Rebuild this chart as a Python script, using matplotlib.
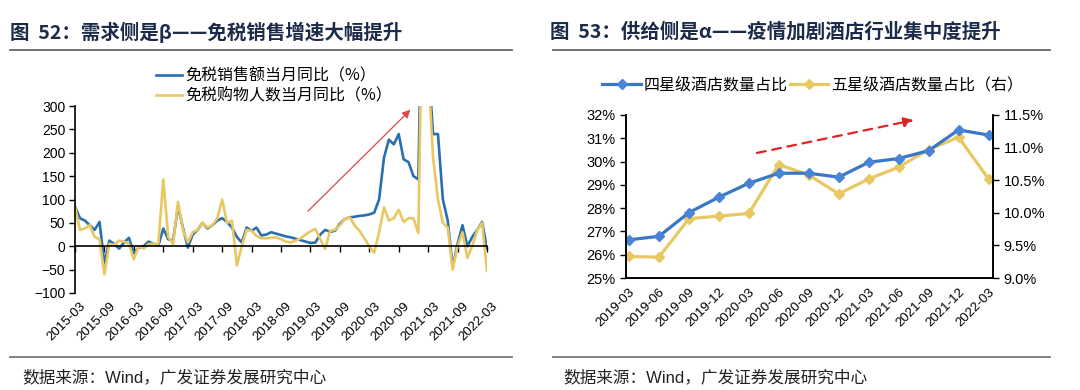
import matplotlib
matplotlib.use('Agg')
import matplotlib.pyplot as plt
from matplotlib.lines import Line2D
import numpy as np
import pandas as pd

# fonts: latin digits in an Arial-like face, CJK falls through to Noto
plt.rcParams['font.family'] = ['Liberation Sans', 'Noto Sans CJK SC', 'DejaVu Sans']
CJK = ['Noto Sans CJK SC', 'DejaVu Sans']

# ---- figure 52 data (monthly, 2015-03 .. 2022-03) ----
months_l = pd.date_range('2015-03-01', periods=85, freq='MS').strftime('%Y-%m').tolist()
sales_yoy = [85, 60, 55, 45, 35, 52, -38, 12, 5, -5, 8, 18, -15, -3, 0, 10, 5, 2, 38, 15,
             12, 85, 40, -3, 25, 35, 50, 38, 45, 55, 60, 52, 40, 20, 8, 40, 33, 40, 23, 25,
             30, 27, 24, 21, 19, 16, 13, 10, 7, 8, 25, 35, 31, 33, 48, 58, 62, 63, 65, 66,
             68, 72, 100, 190, 228, 218, 240, 186, 180, 150, 143, 700, 400, 240, 240, 100, 55, -45, 5, 45,
             0, 20, 35, 52, -5]
shoppers_yoy = [85, 35, 38, 45, 20, 15, -60, 5, 3, 12, 10, 5, -28, 0, -5, 5, 5, 5, 143, 20,
                5, 95, 35, 8, 30, 35, 50, 40, 45, 60, 100, 50, 55, -41, 0, 35, 33, 22, 17, 17,
                18, 19, 15, 10, 8, 12, 17, 25, 32, 37, 15, -6, 33, 35, 45, 58, 62, 45, 33, 17,
                0, -14, 30, 83, 55, 60, 78, 52, 60, 60, 28, 650, 380, 190, 100, 50, 40, -50, 0, 30,
                -25, 0, 35, 50, -53]
series_l = ['免税销售额当月同比（%）', '免税购物人数当月同比（%）']

# ---- figure 53 data (quarterly) ----
months_r = ['2019-03', '2019-06', '2019-09', '2019-12', '2020-03', '2020-06', '2020-09',
            '2020-12', '2021-03', '2021-06', '2021-09', '2021-12', '2022-03']
four_star = [26.64, 26.79, 27.81, 28.47, 29.07, 29.50, 29.50, 29.33, 29.97, 30.13, 30.47, 31.36, 31.14]
five_star = [9.33, 9.32, 9.91, 9.95, 9.99, 10.74, 10.58, 10.29, 10.52, 10.70, 10.97, 11.16, 10.52]
series_r = ['四星级酒店数量占比', '五星级酒店数量占比（右）']

BLUE = '#2a6fb0'
GOLD = '#e8c862'
BLUE_R = '#3a77c4'
NAVY = '#1c2b4a'
W, H = 1080, 390

fig = plt.figure(figsize=(10.8, 3.9), dpi=100)


def fx(px):
    return px / W


def fy(py):
    return 1 - py / H


# titles, rules and sources
fig.text(fx(10), fy(32), '图  52：需求侧是β——免税销售增速大幅提升', family=CJK,
         fontsize=14, fontweight='bold', color=NAVY, va='center')
fig.text(fx(550), fy(32), '图  53：供给侧是α——疫情加剧酒店行业集中度提升', family=CJK,
         fontsize=14, fontweight='bold', color=NAVY, va='center')
for x0, x1 in [(10, 512), (553, 1050)]:
    fig.add_artist(Line2D([fx(x0), fx(x1)], [fy(50), fy(50)], color='#666666', lw=1.3))
    fig.add_artist(Line2D([fx(x0), fx(x1)], [fy(357), fy(357)], color='#777777', lw=1.3))
fig.text(fx(22), fy(377), '数据来源：Wind，广发证券发展研究中心', fontsize=12, color='#222222', va='center')
fig.text(fx(563), fy(377), '数据来源：Wind，广发证券发展研究中心', fontsize=12, color='#222222', va='center')

# ---------------- left chart ----------------
ax = fig.add_axes([fx(75), fy(293), fx(487 - 75), (293 - 106) / H])
x = np.arange(len(months_l))
ax.plot(x, sales_yoy, color=BLUE, lw=1.9, label=series_l[0])
ax.plot(x, shoppers_yoy, color=GOLD, lw=1.9, label=series_l[1])
ax.set_xlim(0, len(months_l) - 1)
ax.set_ylim(-100, 300)
ax.set_yticks(np.arange(-100, 301, 50))
ax.tick_params(axis='y', labelsize=10, length=4, width=1, direction='out', pad=3)
for s in ['top', 'right']:
    ax.spines[s].set_visible(False)
ax.spines['left'].set_linewidth(1.2)
ax.spines['bottom'].set_position(('data', 0))
ax.spines['bottom'].set_linewidth(1.2)
tick_idx = list(range(0, len(months_l), 6))
ax.set_xticks(tick_idx)
ax.tick_params(axis='x', labelbottom=False, length=4, width=1, direction='out')
for i in tick_idx:
    ax.text(i + 1.0, -0.04, months_l[i], transform=ax.get_xaxis_transform(), rotation=45,
            ha='right', va='top', rotation_mode='anchor', fontsize=9.5)

ax.annotate('', xy=(68.4, 292), xytext=(47.5, 75),
            arrowprops=dict(arrowstyle='-|>', color='#d94a4a', lw=0.9, mutation_scale=12,
                            shrinkA=0, shrinkB=0))

fig.legend(handles=ax.get_lines(), labels=series_l, loc='upper left',
           bbox_to_anchor=(fx(150), fy(61)), frameon=False, prop={'family': CJK, 'size': 11.5},
           handlelength=1.6, handletextpad=0.2, labelspacing=0.2, borderaxespad=0)

# ---------------- right chart ----------------
ax2 = fig.add_axes([fx(626), fy(278), fx(993 - 626), (278 - 115) / H])
ax3 = ax2.twinx()
xr = np.arange(len(months_r))
l1, = ax2.plot(xr, four_star, color=BLUE_R, lw=2.3, marker='D', ms=5, mfc='#4a84d6', mec='#4a84d6')
l2, = ax3.plot(xr, five_star, color=GOLD, lw=2.3, marker='D', ms=5, mfc=GOLD, mec=GOLD)
ax2.set_zorder(ax3.get_zorder() + 1)
ax2.patch.set_visible(False)
ax2.set_xlim(-0.1, len(months_r) - 0.85)
ax2.set_ylim(25, 32)
ax3.set_ylim(9.0, 11.5)
ax2.set_yticks(np.arange(25, 33, 1))
ax2.set_yticklabels([f'{v:.0f}%' for v in np.arange(25, 33, 1)])
ax3.set_yticks(np.arange(9.0, 11.51, 0.5))
ax3.set_yticklabels([f'{v:.1f}%' for v in np.arange(9.0, 11.51, 0.5)])
ax2.set_xticks(xr)
ax2.set_xticklabels(months_r, rotation=45, ha='right', rotation_mode='anchor', fontsize=9.5)
ax2.tick_params(axis='x', length=0, pad=6)
ax2.tick_params(axis='y', labelsize=10.5, length=4, width=1)
ax3.tick_params(axis='y', labelsize=10.5, length=4, width=1)
for a in (ax2, ax3):
    a.spines['top'].set_visible(False)
    for s in ['left', 'right', 'bottom']:
        a.spines[s].set_linewidth(1.2)

ax2.annotate('', xy=(9.5, 31.78), xytext=(4.27, 30.37),
             arrowprops=dict(arrowstyle='-|>', color='#e02424', lw=1.6, ls=(0, (4, 3)),
                             mutation_scale=14, shrinkA=0, shrinkB=0))

fig.legend(handles=[l1, l2], labels=series_r, loc='center left', ncol=2,
           bbox_to_anchor=(fx(596), fy(85)), frameon=False, prop={'family': CJK, 'size': 11.5},
           handlelength=2.4, handletextpad=0.2, columnspacing=0.1, borderaxespad=0)

fig.savefig('out.png', dpi=100)
